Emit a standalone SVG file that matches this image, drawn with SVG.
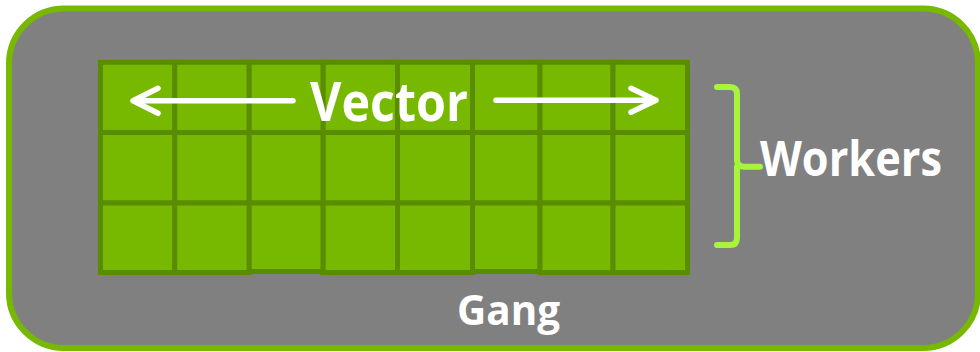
<svg xmlns="http://www.w3.org/2000/svg" width="980" height="352" viewBox="0 0 980 352">
  <style>
    .cell { fill: #76b900; stroke: #5a8c00; stroke-width: 5; }
    .lbl { font-family: "Open Sans", "Liberation Sans", sans-serif; font-weight: 700; fill: #ffffff; }
    .arrow { fill: none; stroke: #ffffff; stroke-width: 5.5; stroke-linecap: round; stroke-linejoin: round; }
    .brace { fill: none; stroke: #a6f43c; stroke-width: 6; stroke-linecap: round; stroke-linejoin: round; }
  </style>

  <!-- gang container -->
  <g id="gang">
    <rect x="9" y="8.5" width="969" height="339.5" rx="55" ry="55" fill="#808080" stroke="#76b900" stroke-width="6"/>
    <text class="lbl" x="457" y="325" font-size="41" textLength="103" lengthAdjust="spacingAndGlyphs">Gang</text>
  </g>

  <!-- 8 x 3 vector lanes -->
  <g id="lanes">
    <!-- row 1 -->
    <rect class="cell" x="100.5" y="62.3" width="74.3" height="70.2"/>
    <rect class="cell" x="174.8" y="62.3" width="74.4" height="70.2"/>
    <rect class="cell" x="249.2" y="62.3" width="74" height="70.2"/>
    <rect class="cell" x="323.2" y="62.3" width="74.3" height="70.2"/>
    <rect class="cell" x="397.5" y="62.3" width="75" height="70.2"/>
    <rect class="cell" x="472.5" y="62.3" width="67.5" height="70.2"/>
    <rect class="cell" x="540" y="62.3" width="73" height="70.2"/>
    <rect class="cell" x="613" y="62.3" width="74.5" height="70.2"/>
    <!-- row 2 -->
    <rect class="cell" x="100.5" y="132.5" width="74.3" height="70.5"/>
    <rect class="cell" x="174.8" y="132.5" width="74.4" height="70.5"/>
    <rect class="cell" x="249.2" y="132.5" width="74" height="70.5"/>
    <rect class="cell" x="323.2" y="132.5" width="74.3" height="70.5"/>
    <rect class="cell" x="397.5" y="132.5" width="75" height="70.5"/>
    <rect class="cell" x="472.5" y="132.5" width="67.5" height="70.5"/>
    <rect class="cell" x="540" y="132.5" width="73" height="70.5"/>
    <rect class="cell" x="613" y="132.5" width="74.5" height="70.5"/>
    <!-- row 3 -->
    <rect class="cell" x="100.5" y="203" width="74.3" height="69.5"/>
    <rect class="cell" x="174.8" y="203" width="74.4" height="69.5"/>
    <rect class="cell" x="249.2" y="203" width="74" height="68.5"/>
    <rect class="cell" x="323.2" y="203" width="74.3" height="69.5"/>
    <rect class="cell" x="397.5" y="203" width="75" height="69.5"/>
    <rect class="cell" x="472.5" y="203" width="67.5" height="68.5"/>
    <rect class="cell" x="540" y="203" width="73" height="69.5"/>
    <rect class="cell" x="613" y="203" width="74.5" height="69.5"/>
  </g>

  <!-- vector span arrows -->
  <g id="connectors">
    <path class="arrow" d="M293,100.7 H133 M158,88.3 L133,100.7 L158,113.3"/>
    <path class="arrow" d="M496,100.3 H656 M631,88.3 L656,100.3 L631,112.3"/>
  </g>

  <g id="vector">
    <text class="lbl" x="310" y="120.7" font-size="54" textLength="158" lengthAdjust="spacingAndGlyphs">Vector</text>
  </g>

  <!-- workers brace -->
  <g id="workers">
    <path class="brace" d="M717,87 H730 Q737,87 737,94 V160 Q737,166.7 744,166.7 H760 M737,166.7 Q737,173 737,176 V238 Q737,245 730,245 H717"/>
    <text class="lbl" x="760" y="176" font-size="48" font-weight="600" textLength="182" lengthAdjust="spacingAndGlyphs">Workers</text>
  </g>
</svg>
